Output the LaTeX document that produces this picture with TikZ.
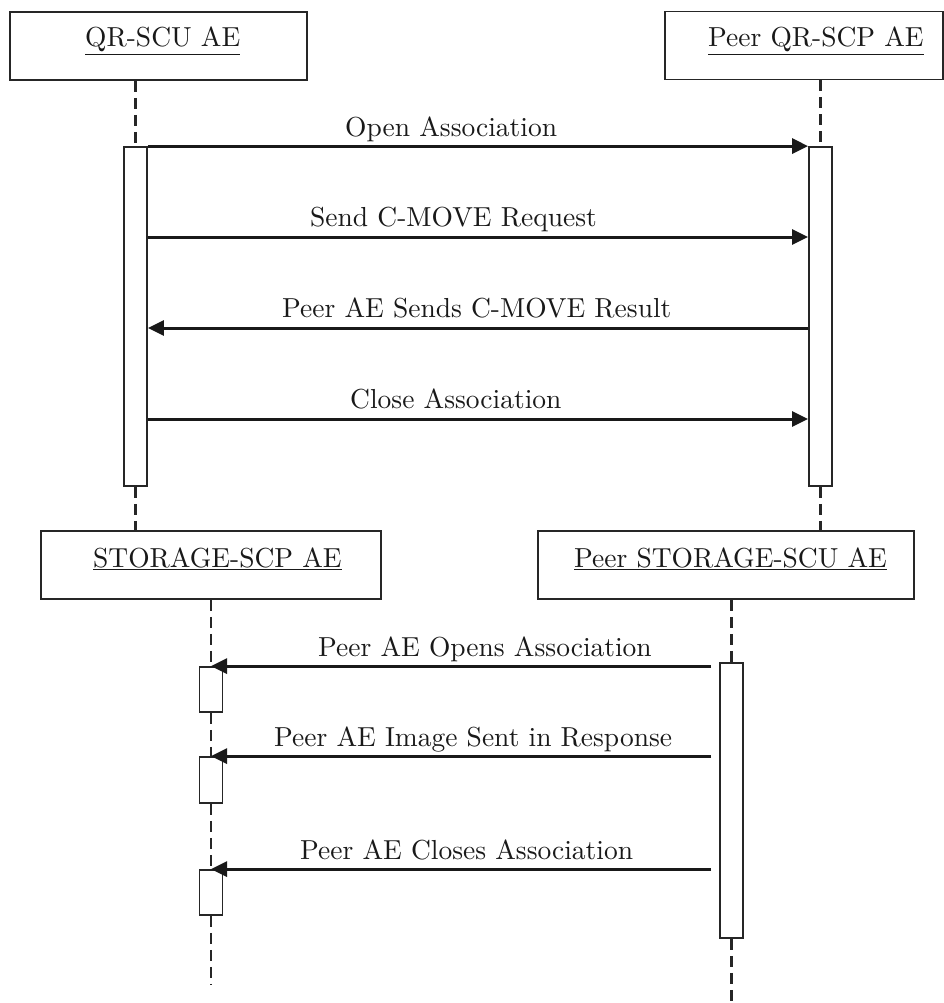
\documentclass[tikz,border=0pt]{standalone}
\usepackage{fontspec}
\setmainfont{lmroman10-regular.otf}
\usetikzlibrary{arrows.meta,calc}
\tikzset{
  lifebox/.style={draw=black!85,line width=1.8pt,rectangle,inner sep=0pt,fill=white},
  actbar/.style={draw=black!85,line width=1.8pt,rectangle,inner sep=0pt,fill=white,minimum width=23pt},
  lifeline/.style={draw=black!85,line width=2.5pt,dash pattern=on 11pt off 6pt},
  msg/.style={draw=black!90,line width=3pt,-{Triangle[length=16pt,width=15pt]}},
  lbl/.style={anchor=base west,inner sep=0pt,font=\fontsize{27.5}{33}\selectfont,text=black!90},
}
\begin{document}
\begin{tikzpicture}[x=1pt,y=-1pt]
\useasboundingbox (0,0) rectangle (944,1003);
% participant boxes
\node[lifebox,minimum width=297pt,minimum height=68pt] (qrscu) at (158.5,46) {};
\node[lifebox,minimum width=278pt,minimum height=68pt] (qrscp) at (804,45.5) {};
\node[lifebox,minimum width=340pt,minimum height=68pt] (stor) at (211,565) {};
\node[lifebox,minimum width=376pt,minimum height=68pt] (pstor) at (726,565) {};
\node[lbl] (tqrscu) at (85,47) {\underline{QR-SCU AE}};
\node[lbl] (tqrscp) at (708,47) {\underline{Peer QR-SCP AE}};
\node[lbl] (tstor) at (93,567) {\underline{STORAGE-SCP AE}};
\node[lbl] (tpstor) at (574,567) {\underline{Peer STORAGE-SCU AE}};
% activation bars
\node[actbar,minimum height=339pt] (A1) at (135.5,316.5) {};
\node[actbar,minimum height=339pt] (B1) at (820.5,316.5) {};
\node[actbar,minimum height=45pt] (C1) at (211,689.5) {};
\node[actbar,minimum height=46pt] (C2) at (211,780) {};
\node[actbar,minimum height=45pt] (C3) at (211,892.5) {};
\node[actbar,minimum height=275pt] (D1) at (731.5,800.5) {};
\coordinate (Cend) at (211,984);
\coordinate (Dend) at (731.5,1003);
% lifelines
\draw[lifeline] (A1.north |- qrscu.south) -- (A1.north);
\draw[lifeline] (A1.south) -- (A1.south |- stor.north);
\draw[lifeline] (B1.north |- qrscp.south) -- (B1.north);
\draw[lifeline] (B1.south) -- (B1.south |- pstor.north);
\draw[lifeline] (C1.north |- stor.south) -- (C1.north);
\draw[lifeline] (C1.south) -- (C2.north);
\draw[lifeline] (C2.south) -- (C3.north);
\draw[lifeline] (C3.south) -- (Cend);
\draw[lifeline] (D1.north |- pstor.south) -- (D1.north);
\draw[lifeline] (D1.south) -- (Dend);
% upper messages
\draw[msg] (A1.north east) -- (B1.north west);
\draw[msg] (A1.east |- 0,237) -- (B1.west |- 0,237);
\draw[msg] (B1.west |- 0,328) -- (A1.east |- 0,328);
\draw[msg] (A1.east |- 0,419) -- (B1.west |- 0,419);
\node[lbl] (l1) at (345,136.5) {Open Association};
\node[lbl] (l2) at (310,226.5) {Send C-MOVE Request};
\node[lbl] (l3) at (282,317.5) {Peer AE Sends C-MOVE Result};
\node[lbl] (l4) at (350,408.5) {Close Association};
% lower messages
\draw[msg] ([xshift=-8pt]D1.west |- C1.north) -- (C1.north);
\draw[msg] ([xshift=-8pt]D1.west |- C2.north) -- (C2.north);
\draw[msg] ([xshift=-8pt]D1.west |- C3.north) -- (C3.north);
\node[lbl] (l5) at (318,656.5) {Peer AE Opens Association};
\node[lbl] (l6) at (274,746.5) {Peer AE Image Sent in Response};
\node[lbl] (l7) at (300,859.5) {Peer AE Closes Association};
\end{tikzpicture}
\end{document}
